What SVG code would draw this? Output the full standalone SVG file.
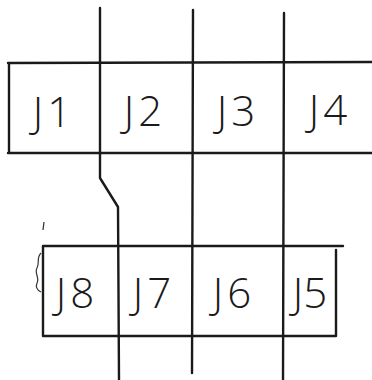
<svg xmlns="http://www.w3.org/2000/svg" width="372" height="380" viewBox="0 0 372 380">
<style>
.ln{stroke:#1a1a1a;stroke-width:2.4;fill:none;stroke-linecap:round;stroke-linejoin:round}
.thin{stroke:#333;stroke-width:1.2;fill:none}
.lb{font-family:"Open Sans","Liberation Sans",Arial,sans-serif;font-weight:300;font-size:42px;letter-spacing:4px;fill:#1a1a1a;text-anchor:middle}
.tight{letter-spacing:0px}
</style>
<rect width="372" height="380" fill="#fff"/>
<g id="frames">
<path class="ln" d="M8,63 L372,62 M9,63 L9,153 M8,153 L372,153"/>
<path class="ln" d="M43,246 L343,246 M43,246 L43,336 M336,250 L336,336 M43,336 L336,336"/>
<path class="thin" d="M41,253 C36,258 40,263 37,268 C34,273 40,278 37,283 C35,288 39,291 41,292"/>
<path class="thin" d="M44,222 L43,230"/>
</g>
<g id="connectors">
<path class="ln" d="M100,8 L100,178 L118,207 L119,380"/>
<path class="ln" d="M193,10 L192,373"/>
<path class="ln" d="M284,13 L283,380"/>
</g>
<g id="J1"><text class="lb" x="54" y="127">J1</text></g>
<g id="J2"><text class="lb" x="145" y="126">J2</text></g>
<g id="J3"><text class="lb" x="238" y="126">J3</text></g>
<g id="J4"><text class="lb" x="330" y="125">J4</text></g>
<g id="J8"><text class="lb" x="77" y="308">J8</text></g>
<g id="J7"><text class="lb" x="154" y="308">J7</text></g>
<g id="J6"><text class="lb" x="234" y="308">J6</text></g>
<g id="J5"><text class="lb tight" x="310" y="308">J5</text></g>
</svg>
